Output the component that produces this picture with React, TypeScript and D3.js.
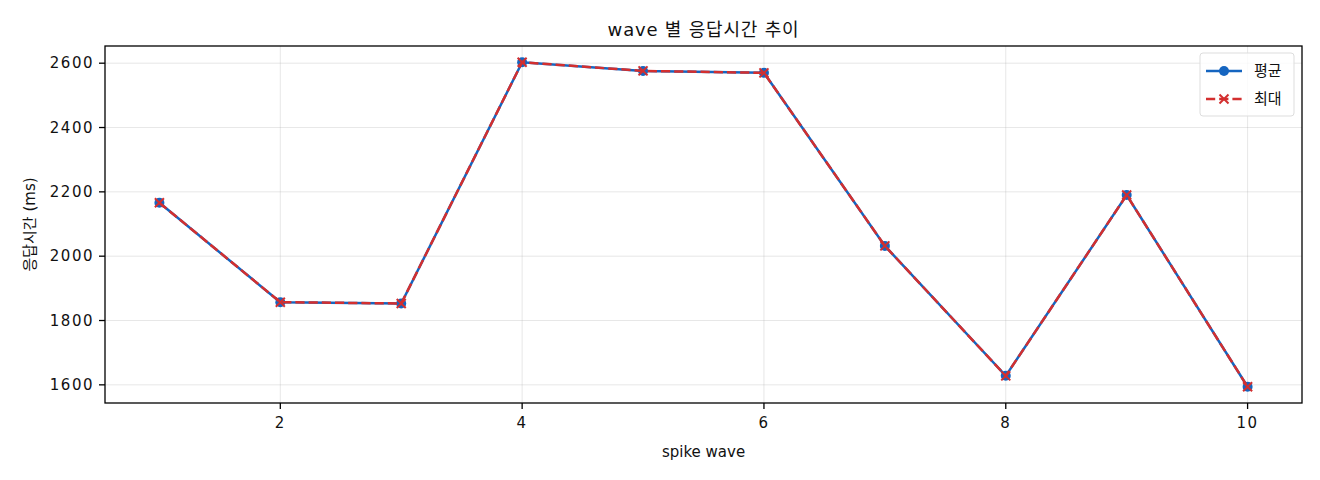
import * as d3 from "d3";

const WIDTH = 1320;
const HEIGHT = 480;
const MARGIN = { top: 46, right: 18, bottom: 77, left: 105 };

const waves = [1, 2, 3, 4, 5, 6, 7, 8, 9, 10];
const avgMs = [2166, 1857, 1853, 2603, 2576, 2570, 2032, 1628, 2190, 1594];
const maxMs = [2166, 1857, 1853, 2603, 2576, 2570, 2032, 1628, 2190, 1594];
const xTicks = [2, 4, 6, 8, 10];
const yTicks = [1600, 1800, 2000, 2200, 2400, 2600];

const BLUE = "#1565c0";
const RED = "#d32f2f";
const FONT = "'DejaVu Sans', 'Noto Sans CJK KR', sans-serif";

const App = () => {
  const boundsWidth = WIDTH - MARGIN.left - MARGIN.right;
  const boundsHeight = HEIGHT - MARGIN.top - MARGIN.bottom;

  // matplotlib-like 5% padding
  const xScale = d3.scaleLinear().domain([0.55, 10.45]).range([0, boundsWidth]);
  const lo = d3.min([...avgMs, ...maxMs]) as number;
  const hi = d3.max([...avgMs, ...maxMs]) as number;
  const pad = (hi - lo) * 0.05;
  const yScale = d3
    .scaleLinear()
    .domain([lo - pad, hi + pad])
    .range([boundsHeight, 0]);

  const line = d3
    .line<number>()
    .x((_, i) => xScale(waves[i]))
    .y((d) => yScale(d));

  const cross = (cx: number, cy: number, s: number, key: number) => (
    <g key={key} stroke={RED} strokeWidth={2}>
      <line x1={cx - s} x2={cx + s} y1={cy - s} y2={cy + s} />
      <line x1={cx - s} x2={cx + s} y1={cy + s} y2={cy - s} />
    </g>
  );

  return (
    <svg
      width={WIDTH}
      height={HEIGHT}
      style={{ position: "absolute", left: 0, top: 0, background: "white" }}
      fontFamily={FONT}
    >
      <text
        x={MARGIN.left + boundsWidth / 2}
        y={36}
        textAnchor="middle"
        fontSize={18}
        letterSpacing={0.8}
        fill="#111"
      >
        wave 별 응답시간 추이
      </text>
      <g transform={`translate(${MARGIN.left},${MARGIN.top})`}>
        {/* grid */}
        {xTicks.map((t) => (
          <line
            key={"gx" + t}
            x1={xScale(t)}
            x2={xScale(t)}
            y1={0}
            y2={boundsHeight}
            stroke="#b0b0b0"
            strokeOpacity={0.3}
          />
        ))}
        {yTicks.map((t) => (
          <line
            key={"gy" + t}
            x1={0}
            x2={boundsWidth}
            y1={yScale(t)}
            y2={yScale(t)}
            stroke="#b0b0b0"
            strokeOpacity={0.3}
          />
        ))}

        {/* series */}
        <path d={line(avgMs) || ""} fill="none" stroke={BLUE} strokeWidth={2.5} />
        {avgMs.map((v, i) => (
          <circle key={i} cx={xScale(waves[i])} cy={yScale(v)} r={5} fill={BLUE} />
        ))}
        <path
          d={line(maxMs) || ""}
          fill="none"
          stroke={RED}
          strokeWidth={2.5}
          strokeDasharray="9.2,4"
        />
        {maxMs.map((v, i) => cross(xScale(waves[i]), yScale(v), 4.5, i))}

        {/* frame */}
        <rect
          x={0}
          y={0}
          width={boundsWidth}
          height={boundsHeight}
          fill="none"
          stroke="#000"
          strokeWidth={1.3}
        />

        {/* x axis */}
        {xTicks.map((t) => (
          <g key={"tx" + t}>
            <line
              x1={xScale(t)}
              x2={xScale(t)}
              y1={boundsHeight}
              y2={boundsHeight + 6}
              stroke="#000"
              strokeWidth={1.3}
            />
            <text
              x={xScale(t)}
              y={boundsHeight + 25}
              textAnchor="middle"
              fontSize={15}
              letterSpacing={1.5}
              fill="#111"
            >
              {t}
            </text>
          </g>
        ))}
        {/* y axis */}
        {yTicks.map((t) => (
          <g key={"ty" + t}>
            <line
              x1={-6}
              x2={0}
              y1={yScale(t)}
              y2={yScale(t)}
              stroke="#000"
              strokeWidth={1.3}
            />
            <text
              x={-11}
              y={yScale(t)}
              textAnchor="end"
              dominantBaseline="central"
              fontSize={15}
              letterSpacing={1.5}
              fill="#111"
            >
              {t}
            </text>
          </g>
        ))}

        {/* legend */}
        <g transform={`translate(${boundsWidth - 102},7)`}>
          <rect
            x={0}
            y={0}
            width={94}
            height={63}
            rx={3}
            fill="white"
            fillOpacity={0.8}
            stroke="#ddd"
          />
          <line x1={6} x2={42} y1={18} y2={18} stroke={BLUE} strokeWidth={2.5} />
          <circle cx={24} cy={18} r={5} fill={BLUE} />
          <text x={54} y={18} dominantBaseline="central" fontSize={15} fill="#111">
            평균
          </text>
          <line
            x1={6}
            x2={42}
            y1={46}
            y2={46}
            stroke={RED}
            strokeWidth={2.5}
            strokeDasharray="9.2,4"
          />
          {cross(24, 46, 4.5, 0)}
          <text x={54} y={46} dominantBaseline="central" fontSize={15} fill="#111">
            최대
          </text>
        </g>
      </g>

      <text
        x={MARGIN.left + boundsWidth / 2}
        y={457}
        textAnchor="middle"
        fontSize={15}
        fill="#111"
      >
        spike wave
      </text>
      <text
        transform={`translate(35,${MARGIN.top + boundsHeight / 2}) rotate(-90)`}
        textAnchor="middle"
        fontSize={15}
        fill="#111"
      >
        응답시간 (ms)
      </text>
    </svg>
  );
};

export default App;
